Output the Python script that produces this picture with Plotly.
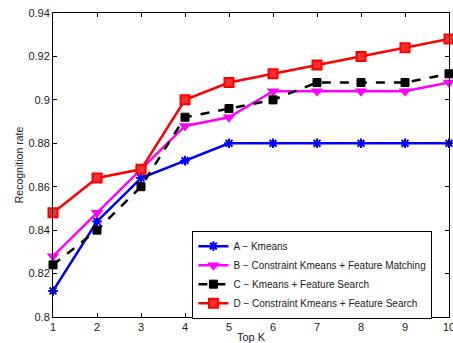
import plotly.graph_objects as go

top_k = [1, 2, 3, 4, 5, 6, 7, 8, 9, 10]
series_a = [0.812, 0.844, 0.864, 0.872, 0.880, 0.880, 0.880, 0.880, 0.880, 0.880]
series_b = [0.828, 0.848, 0.868, 0.888, 0.892, 0.904, 0.904, 0.904, 0.904, 0.908]
series_c = [0.824, 0.840, 0.860, 0.892, 0.896, 0.900, 0.908, 0.908, 0.908, 0.912]
series_d = [0.848, 0.864, 0.868, 0.900, 0.908, 0.912, 0.916, 0.920, 0.924, 0.928]
names = ["A \u2212 Kmeans",
         "B \u2212 Constraint Kmeans + Feature Matching",
         "C \u2212 Kmeans + Feature Search",
         "D \u2212 Constraint Kmeans + Feature Search"]
y_ticks = [0.8, 0.82, 0.84, 0.86, 0.88, 0.9, 0.92, 0.94]

fig = go.Figure()
fig.add_trace(go.Scatter(x=top_k, y=series_a, name=names[0], mode="lines+markers", cliponaxis=False,
                         line=dict(color="#0000ff", width=2.5),
                         marker=dict(symbol="asterisk-open", size=8, line=dict(color="#0000ff", width=2))))
fig.add_trace(go.Scatter(x=top_k, y=series_b, name=names[1], mode="lines+markers", cliponaxis=False,
                         line=dict(color="#ff00ff", width=2.5),
                         marker=dict(symbol="triangle-down", size=11, color="#ff00ff")))
fig.add_trace(go.Scatter(x=top_k, y=series_c, name=names[2], mode="lines+markers", cliponaxis=False,
                         line=dict(color="#000000", width=2.5, dash="dash"),
                         marker=dict(symbol="square", size=8, color="#000000",
                                     line=dict(color="#000000", width=1))))
fig.add_trace(go.Scatter(x=top_k, y=series_d, name=names[3], mode="lines+markers", cliponaxis=False,
                         line=dict(color="#ff0000", width=2.5),
                         marker=dict(symbol="square", size=9, color="#ff3030",
                                     line=dict(color="#ff0000", width=2))))

axis_common = dict(showgrid=False, zeroline=False, showline=True, linecolor="black",
                   linewidth=1, mirror="ticks", ticks="inside", ticklen=4,
                   tickcolor="black", tickfont=dict(size=11, color="#222"),
                   ticklabeloverflow="allow")
fig.update_layout(
    width=453, height=343,
    margin=dict(l=53, r=4, t=13, b=26, autoexpand=False),
    paper_bgcolor="white", plot_bgcolor="white",
    font=dict(family="Liberation Sans, Arial, sans-serif", color="#222"),
    showlegend=True,
    legend=dict(x=0.352, y=0.284, xanchor="left", yanchor="top",
                bgcolor="white", bordercolor="black", borderwidth=1,
                font=dict(size=10), tracegroupgap=0, itemwidth=30),
)
fig.update_xaxes(range=[1, 10], tickvals=top_k, automargin=False,
                 title=dict(text="Top K", font=dict(size=11), standoff=4),
                 **axis_common)
fig.update_yaxes(range=[0.8, 0.94], tickvals=y_ticks, automargin=False,
                 ticktext=[f"{v:g}" for v in y_ticks],
                 title=dict(text="Recognition rate", font=dict(size=10.5), standoff=2),
                 **axis_common)

fig.write_html("out.html", config={"displayModeBar": False})
with open("out.html", encoding="utf-8") as f:
    html = f.read()
html = html.replace("<body>", '<body style="margin:0;padding:0;overflow:hidden">', 1)
with open("out.html", "w", encoding="utf-8") as f:
    f.write(html)
